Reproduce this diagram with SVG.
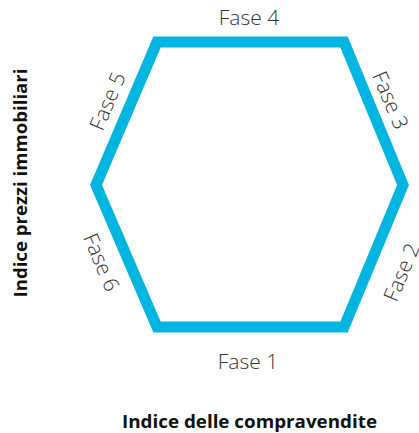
<svg xmlns="http://www.w3.org/2000/svg" width="419" height="433" viewBox="0 0 419 433">
<style>
.hex{fill:none;stroke:#00B5E0;stroke-width:11;stroke-linejoin:miter}
.ph{font-family:"Open Sans","Liberation Sans",sans-serif;font-weight:300;font-size:21px;fill:#333;text-anchor:middle;dominant-baseline:central}
.ax{font-family:"Open Sans","Liberation Sans",sans-serif;font-weight:700;font-size:18px;fill:#111;text-anchor:middle}
</style>
<rect width="419" height="433" fill="#fff"/>
<g id="cycle">
<polygon class="hex" points="157,42 344,42 403,185 344,327 157,327 96,185"/>
</g>
<g id="labels">
<text class="ph" x="249" y="17">Fase 4</text>
<text class="ph" x="248" y="361">Fase 1</text>
<text class="ph" transform="translate(107,101) rotate(-67)">Fase 5</text>
<text class="ph" transform="translate(391,100) rotate(67)">Fase 3</text>
<text class="ph" transform="translate(401,272) rotate(-67)">Fase 2</text>
<text class="ph" transform="translate(102,262) rotate(67)">Fase 6</text>
</g>
<g id="axes">
<text class="ax" transform="translate(27,183) rotate(-90)" textLength="229" lengthAdjust="spacingAndGlyphs">Indice prezzi immobiliari</text>
<text class="ax" x="249.5" y="428" textLength="255" lengthAdjust="spacingAndGlyphs">Indice delle compravendite</text>
</g>
</svg>
